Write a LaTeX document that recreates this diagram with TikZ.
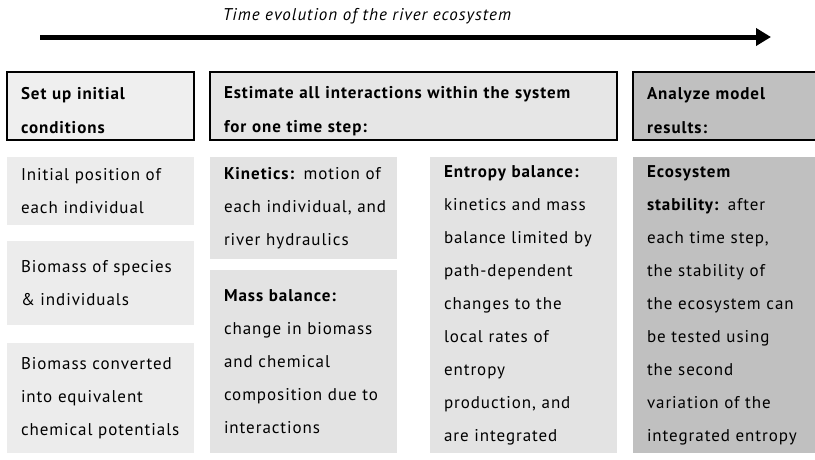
\documentclass[tikz,border=0pt]{standalone}
\usepackage{fontspec}
\setmainfont{PT Sans}[LetterSpace=5.5]
\newfontfamily\titlefont{PT Sans}[LetterSpace=6]
\usetikzlibrary{arrows.meta, positioning}

\definecolor{hdrlight}{HTML}{EFEFEF}
\definecolor{hdrmid}{HTML}{E6E6E6}
\definecolor{boxlight}{HTML}{ECECEC}
\definecolor{boxmid}{HTML}{E3E3E3}
\definecolor{boxdark}{HTML}{C0C0C0}
\newcommand{\hdrstrut}{\rule{0pt}{22pt}}

\tikzstyle{hdr} = [rectangle, draw=black, line width=2pt, align=left, inner xsep=14pt, inner ysep=0pt, outer sep=0pt, font=\fontsize{17}{34}\selectfont\bfseries, minimum height=68pt]
\tikzstyle{cbox} = [rectangle, align=left, inner xsep=14pt, inner ysep=0pt, outer sep=0pt, font=\fontsize{17}{33}\selectfont]
\tikzset{
	TARROW/.style={line width=5pt, arrows={-Triangle[length=15pt, width=17pt]}}
}

\begin{document}
\begin{tikzpicture}[x=1pt, y=-1pt]
	\useasboundingbox (0,0) rectangle (815,459);
	% time arrow
	\node (title) at (367,16) {\titlefont\fontsize{17}{18}\selectfont\itshape Time evolution of the river ecosystem};
	\coordinate (tstart) at (40,37);
	\coordinate (tend) at (771,37);
	\draw [TARROW] (tstart) -- (tend);

	% column headers
	\node (setup) [hdr, fill=hdrlight, text width=159pt, anchor=north west] at (7,72) {\hdrstrut Set up initial\\conditions};
	\node (estim) [hdr, fill=hdrmid, text width=379pt, right=16pt of setup.north east, anchor=north west] {\hdrstrut Estimate all interactions within the system\\for one time step:};
	\node (analyze) [hdr, fill=boxdark, text width=172pt, right=16pt of estim.north east, anchor=north west] {\hdrstrut Analyze model\\results:};

	% initial conditions
	\node (init) [cbox, fill=boxlight, text width=159pt, minimum height=68pt, below=17pt of setup.south west, anchor=north west] {Initial position of\\each individual};
	\node (biom) [cbox, fill=boxlight, text width=159pt, minimum height=84pt, below=16pt of init.south west, anchor=north west] {Biomass of species\\\& individuals};
	\node (conv) [cbox, fill=boxlight, text width=159pt, minimum height=110pt, below=18pt of biom.south west, anchor=north west] {Biomass converted\\into equivalent\\chemical~potentials};

	% interactions
	\node (kin) [cbox, fill=boxmid, text width=159pt, minimum height=102pt, right=16pt of init.north east, anchor=north west] {\textbf{Kinetics:} motion~of\\each~individual,~and\\river hydraulics};
	\node (mass) [cbox, fill=boxmid, text width=159pt, minimum height=183pt, below=11pt of kin.south west, anchor=north west] {\textbf{Mass balance:}\\change in biomass\\and chemical\\composition~due~to\\interactions};
	\node (entr) [cbox, fill=boxmid, text width=159pt, minimum height=296pt, right=33pt of kin.north east, anchor=north west] {\textbf{Entropy balance:}\\kinetics and mass\\balance~limited~by\\path-dependent\\changes to the\\local rates of\\entropy\\production, and\\are integrated};

	% model results
	\node (stab) [cbox, fill=boxdark, text width=172pt, minimum height=296pt, right=16pt of entr.north east, anchor=north west] {\textbf{Ecosystem}\\\textbf{stability:} after\\each time step,\\the stability of\\the~ecosystem~can\\be tested using\\the second\\variation of the\\integrated~entropy};
\end{tikzpicture}
\end{document}
